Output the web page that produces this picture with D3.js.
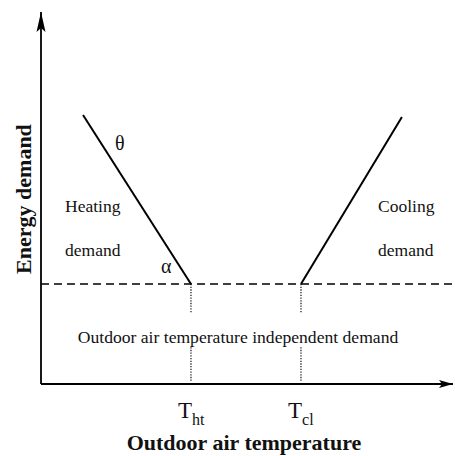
<!DOCTYPE html>
<html><head><meta charset="utf-8"><script src="https://cdn.jsdelivr.net/npm/d3@7"></script></head>
<body style="margin:0">
<script>
// conceptual values (0-100 units on both axes)
var thresholdTemps = [36.4, 63.1];
var thresholdSubs = ["ht", "cl"];
var baseDemand = 26.9;
var heatingLine = [[10.2, 72.3], [36.4, 26.9]];
var coolingLine = [[63.1, 26.9], [87.6, 71.8]];
var regionText = ["Heating", "demand", "Cooling", "demand"];
var xTitle = "Outdoor air temperature";
var yTitle = "Energy demand";
var baseText = "Outdoor air temperature independent demand";

var svg = d3.select("body").append("svg")
  .attr("width", 455)
  .attr("height", 456)
  .attr("font-family", "Liberation Serif");

var x = d3.scaleLinear().domain([0, 100]).range([41, 453]);
var y = d3.scaleLinear().domain([0, 100]).range([384, 12]);

// arrow heads
var defs = svg.append("defs");
defs.append("marker")
  .attr("id", "arrowY")
  .attr("markerUnits", "userSpaceOnUse")
  .attr("viewBox", "0 -5 20 10")
  .attr("refX", 20).attr("refY", 0)
  .attr("markerWidth", 20).attr("markerHeight", 10)
  .attr("orient", "auto")
  .append("path")
  .attr("d", "M0,-4.5L20,0L0,4.5L4,0Z")
  .attr("fill", "#000");
defs.append("marker")
  .attr("id", "arrowX")
  .attr("markerUnits", "userSpaceOnUse")
  .attr("viewBox", "0 -5 14 10")
  .attr("refX", 14).attr("refY", 0)
  .attr("markerWidth", 14).attr("markerHeight", 10)
  .attr("orient", "auto")
  .append("path")
  .attr("d", "M0,-4L14,0L0,4L3,0Z")
  .attr("fill", "#000");

var line = d3.line().x(d => x(d[0])).y(d => y(d[1]));

// axes
svg.append("path")
  .attr("d", line([[0, 0], [0, 100]]))
  .attr("stroke", "#000").attr("stroke-width", 1.8).attr("fill", "none")
  .attr("marker-end", "url(#arrowY)");
svg.append("path")
  .attr("d", line([[0, 0], [100, 0]]))
  .attr("stroke", "#000").attr("stroke-width", 1.8).attr("fill", "none")
  .attr("marker-end", "url(#arrowX)");

// base demand dashed line
svg.append("path")
  .attr("d", line([[0, baseDemand], [100.5, baseDemand]]))
  .attr("stroke", "#000").attr("stroke-width", 1.5)
  .attr("stroke-dasharray", "8,5").attr("fill", "none");

// threshold dotted lines (gap for the centre label)
thresholdTemps.forEach(function(t) {
  [[baseDemand, 19], [9.9, 0.8]].forEach(function(seg) {
    svg.append("path")
      .attr("d", line([[t, seg[0]], [t, seg[1]]]))
      .attr("stroke", "#222").attr("stroke-width", 1.3)
      .attr("stroke-dasharray", "1.3,1.4").attr("fill", "none");
  });
});

// heating and cooling lines
[heatingLine, coolingLine].forEach(function(pts) {
  svg.append("path")
    .attr("d", line(pts))
    .attr("stroke", "#000").attr("stroke-width", 2).attr("fill", "none");
});

// labels
function label(txt, px, py, size, weight, anchor) {
  return svg.append("text")
    .attr("x", px).attr("y", py)
    .attr("font-family", "Liberation Serif")
    .attr("font-size", size)
    .attr("font-weight", weight || "normal")
    .attr("text-anchor", anchor || "start")
    .attr("fill", "#111")
    .text(txt);
}

label("\u03b8", 115, 150, 20);
label("\u03b1", 161, 273, 20);
label(regionText[0], 65, 212, 17.5);
label(regionText[1], 65, 256, 17.5);
label(regionText[2], 378, 212, 17.5);
label(regionText[3], 378, 256, 17.5);
label(baseText, 238, 343, 17.6, "normal", "middle");

thresholdTemps.forEach(function(t, i) {
  var tx = svg.append("text")
    .attr("x", x(t) - 13).attr("y", 418)
    .attr("font-family", "Liberation Serif")
    .attr("font-size", 23)
    .attr("fill", "#111");
  tx.append("tspan").text("T");
  tx.append("tspan")
    .attr("font-size", 16)
    .attr("dy", 7)
    .text(thresholdSubs[i]);
});

label(xTitle, 244, 450, 22, "bold", "middle");

svg.append("text")
  .attr("transform", "translate(31, 199) rotate(-90)")
  .attr("font-family", "Liberation Serif")
  .attr("font-size", 22)
  .attr("font-weight", "bold")
  .attr("text-anchor", "middle")
  .attr("fill", "#111")
  .text(yTitle);
</script></body></html>
